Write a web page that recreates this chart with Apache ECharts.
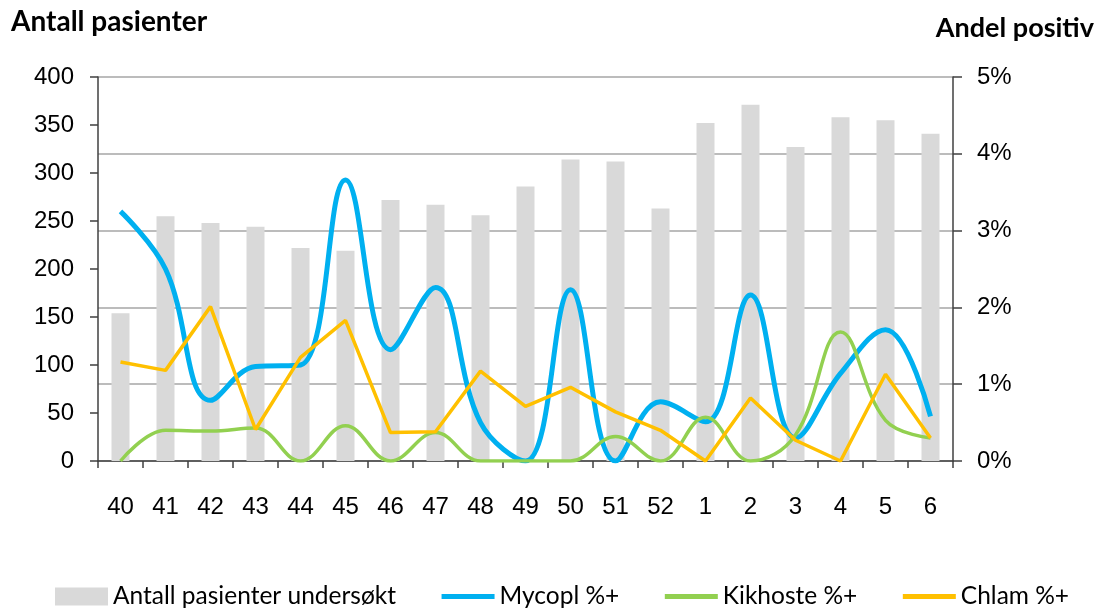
<!DOCTYPE html>
<html>
<head>
<meta charset="utf-8">
<script src="https://cdn.jsdelivr.net/npm/echarts@6/dist/echarts.min.js"></script>
<style>
  html, body { margin: 0; padding: 0; background: #fff; }
  #chart { width: 1102px; height: 610px; }
</style>
</head>
<body>
<div id="chart"></div>
<script>
// uke-nummer
var weeks = ["40", "41", "42", "43", "44", "45", "46", "47", "48", "49", "50", "51", "52", "1", "2", "3", "4", "5", "6"];
// antall pasienter undersøkt (venstre akse)
var patients = [154, 255, 248, 244, 222, 219, 272, 267, 256, 286, 314, 312, 263, 352, 371, 327, 358, 355, 341];
// andel positive i prosent (høyre akse)
var mycopl = [3.25, 2.5, 0.79, 1.23, 1.25, 3.66, 1.45, 2.26, 0.5, 0, 2.23, 0, 0.77, 0.51, 2.16, 0.3, 1.14, 1.71, 0.58];
var kikhoste = [0, 0.4, 0.39, 0.43, 0, 0.46, 0, 0.37, 0, 0, 0, 0.32, 0, 0.57, 0, 0.34, 1.68, 0.53, 0.3];
var chlam = [1.29, 1.18, 2.01, 0.41, 1.35, 1.83, 0.37, 0.38, 1.17, 0.71, 0.96, 0.64, 0.4, 0, 0.82, 0.27, 0, 1.13, 0.3];

var chart = echarts.init(document.getElementById("chart"));

var labelFont = "Liberation Sans";
var textFont = "Lato";

var option = {
  animation: false,
  title: [
    {
      text: "Antall pasienter",
      left: 6,
      top: 3,
      textStyle: { fontFamily: textFont, fontWeight: "bold", fontSize: 28, color: "#000" }
    },
    {
      text: "Andel positiv",
      right: 3,
      top: 10,
      textStyle: { fontFamily: textFont, fontWeight: "bold", fontSize: 27, color: "#000" }
    }
  ],
  grid: {
    left: 98,
    right: 149,
    top: 77,
    bottom: 149
  },
  legend: {
    left: 50,
    top: 579,
    itemWidth: 53,
    itemHeight: 18,
    itemGap: 43,
    textStyle: { fontFamily: textFont, fontSize: 24.5, color: "#000" },
    itemStyle: { opacity: 0 },
    lineStyle: { width: 5 },
    data: [
      { name: "Antall pasienter undersøkt", icon: "rect", itemStyle: { opacity: 1 } },
      { name: "Mycopl %+" },
      { name: "Kikhoste %+" },
      { name: "Chlam %+" }
    ]
  },
  xAxis: {
    type: "category",
    data: weeks,
    axisLine: { lineStyle: { color: "#404040", width: 1.5 } },
    axisTick: { show: true, interval: 0, length: 7, lineStyle: { color: "#404040", width: 1.5 } },
    axisLabel: { interval: 0, margin: 34, fontFamily: labelFont, fontSize: 24, color: "#000" }
  },
  yAxis: [
    {
      type: "value",
      min: 0,
      max: 400,
      interval: 50,
      axisLine: { show: true, lineStyle: { color: "#404040", width: 1.5 } },
      axisTick: { show: true, length: 8, lineStyle: { color: "#404040", width: 1.5 } },
      axisLabel: { margin: 24, fontFamily: labelFont, fontSize: 24, color: "#000" },
      splitLine: { show: false }
    },
    {
      type: "value",
      min: 0,
      max: 5,
      interval: 1,
      axisLine: { show: true, lineStyle: { color: "#404040", width: 1.5 } },
      axisTick: { show: true, length: 9, lineStyle: { color: "#404040", width: 1.5 } },
      axisLabel: { margin: 24, fontFamily: labelFont, fontSize: 24, color: "#000", formatter: "{value}%" },
      splitLine: { show: true, lineStyle: { color: "#a6a6a6", width: 1.5 } }
    }
  ],
  series: [
    {
      name: "Antall pasienter undersøkt",
      type: "bar",
      yAxisIndex: 0,
      barWidth: 18,
      itemStyle: { color: "#d9d9d9" },
      data: patients
    },
    {
      name: "Mycopl %+",
      type: "line",
      yAxisIndex: 1,
      smooth: 0.4,
      symbol: "none",
      lineStyle: { color: "#00b0f0", width: 5 },
      itemStyle: { color: "#00b0f0" },
      data: mycopl
    },
    {
      name: "Kikhoste %+",
      type: "line",
      yAxisIndex: 1,
      smooth: 0.4,
      symbol: "none",
      lineStyle: { color: "#92d050", width: 3.5 },
      itemStyle: { color: "#92d050" },
      data: kikhoste
    },
    {
      name: "Chlam %+",
      type: "line",
      yAxisIndex: 1,
      symbol: "none",
      lineStyle: { color: "#ffc000", width: 3.5 },
      itemStyle: { color: "#ffc000" },
      data: chlam
    }
  ]
};

chart.setOption(option);
</script>
</body>
</html>
